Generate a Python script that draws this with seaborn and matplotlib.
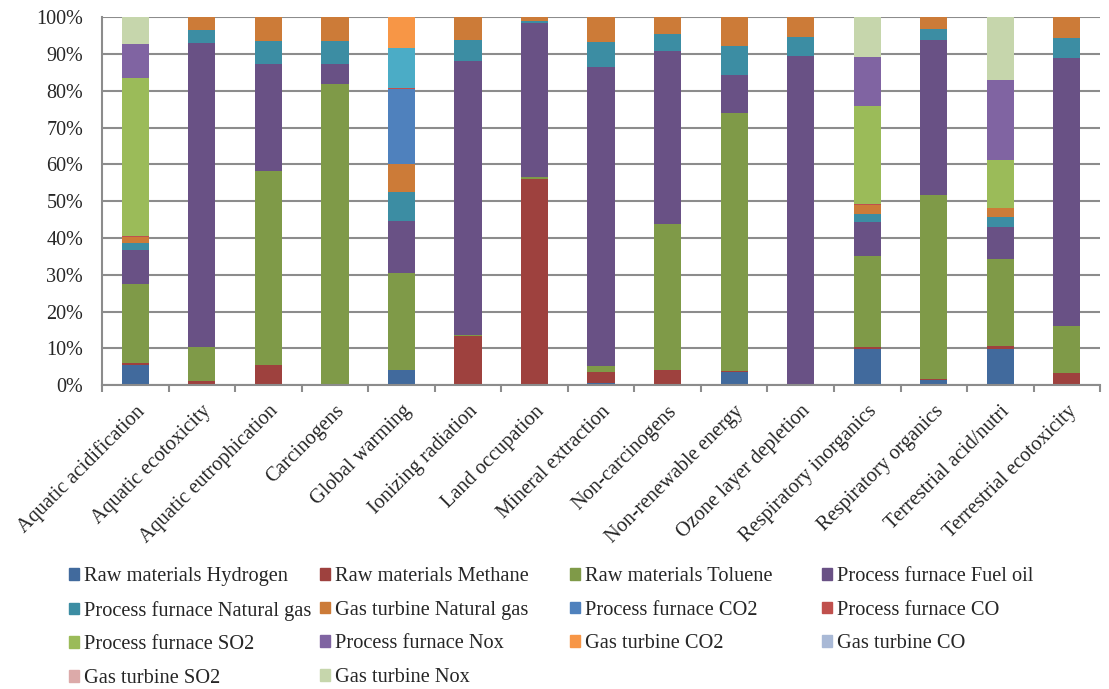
import matplotlib
matplotlib.use("Agg")
import matplotlib.pyplot as plt
import matplotlib.patches as mpatches
import matplotlib.ticker as ticker
import numpy as np
import seaborn as sns

categories = [
    "Aquatic acidification", "Aquatic ecotoxicity", "Aquatic eutrophication",
    "Carcinogens", "Global warming", "Ionizing radiation", "Land occupation",
    "Mineral extraction", "Non-carcinogens", "Non-renewable energy",
    "Ozone layer depletion", "Respiratory inorganics", "Respiratory organics",
    "Terrestrial acid/nutri", "Terrestrial ecotoxicity",
]

# shares in % per impact category, bottom to top
raw_hydrogen = [5.4, 0, 0, 0, 4.0, 0, 0, 0.6, 0, 3.5, 0, 9.7, 1.3, 9.9, 0]
raw_methane = [0.5, 1.1, 5.4, 0, 0.2, 13.3, 56.0, 3.0, 4.1, 0.3, 0, 0.6, 0.4, 0.7, 3.3]
raw_toluene = [21.7, 9.2, 52.8, 81.8, 26.2, 0.4, 0.5, 1.7, 39.6, 70.2, 0, 24.8, 49.9, 23.8, 12.9]
pf_fuel_oil = [9.0, 82.7, 29.1, 5.6, 14.3, 74.3, 41.9, 81.2, 47.0, 10.3, 89.4, 9.3, 42.2, 8.7, 72.7]
pf_natural_gas = [2.0, 3.6, 6.2, 6.2, 7.7, 5.9, 0.7, 6.7, 4.7, 7.8, 5.2, 2.2, 2.9, 2.6, 5.4]
gt_natural_gas = [1.8, 3.4, 6.5, 6.4, 7.7, 6.1, 0.9, 6.8, 4.6, 7.9, 5.4, 2.4, 3.3, 2.5, 5.7]
pf_co2 = [0, 0, 0, 0, 20.3, 0, 0, 0, 0, 0, 0, 0, 0, 0, 0]
pf_co = [0.2, 0, 0, 0, 0.4, 0, 0, 0, 0, 0, 0, 0.3, 0, 0, 0]
pf_so2 = [43.0, 0, 0, 0, 0, 0, 0, 0, 0, 0, 0, 26.7, 0, 13.1, 0]
pf_nox = [9.2, 0, 0, 0, 0, 0, 0, 0, 0, 0, 0, 13.2, 0, 21.7, 0]
unlisted = [0, 0, 0, 0, 10.8, 0, 0, 0, 0, 0, 0, 0, 0, 0, 0]  # not shown in legend
gt_co2 = [0, 0, 0, 0, 8.4, 0, 0, 0, 0, 0, 0, 0, 0, 0, 0]
gt_co = [0] * 15
gt_so2 = [0] * 15
gt_nox = [7.2, 0, 0, 0, 0, 0, 0, 0, 0, 0, 0, 10.8, 0, 17.0, 0]

series = [
    ("Raw materials Hydrogen", raw_hydrogen, "#416A9D"),
    ("Raw materials Methane", raw_methane, "#9E413E"),
    ("Raw materials Toluene", raw_toluene, "#7F9A48"),
    ("Process furnace Fuel oil", pf_fuel_oil, "#695185"),
    ("Process furnace Natural gas", pf_natural_gas, "#3C8DA3"),
    ("Gas turbine Natural gas", gt_natural_gas, "#CC7B38"),
    ("Process furnace CO2", pf_co2, "#4F81BD"),
    ("Process furnace CO", pf_co, "#C0504D"),
    ("Process furnace SO2", pf_so2, "#9BBB59"),
    ("Process furnace Nox", pf_nox, "#8064A2"),
    ("_hidden", unlisted, "#4BACC6"),
    ("Gas turbine CO2", gt_co2, "#F79646"),
    ("Gas turbine CO", gt_co, "#A9B9D6"),
    ("Gas turbine SO2", gt_so2, "#DCAAA9"),
    ("Gas turbine Nox", gt_nox, "#C6D6AC"),
]

sns.set_style("white")
plt.rcParams["font.family"] = ["Liberation Serif", "DejaVu Serif"]

fig = plt.figure(figsize=(11.09, 6.89), dpi=100)
ax = fig.add_axes([0.092, 0.441, 0.9, 0.534])

values = np.array([s[1] for s in series], dtype=float)
values = values / values.sum(axis=0) * 100
cumulative = np.cumsum(values, axis=0)

# draw the tallest cumulative bar first, lower segments on top
for i in range(len(series) - 1, -1, -1):
    sns.barplot(x=categories, y=cumulative[i], color=series[i][2],
                saturation=1, width=0.41, linewidth=0, ax=ax)

ax.set_ylim(0, 100)
ax.set_xlim(-0.5, len(categories) - 0.5)
ax.yaxis.set_major_locator(ticker.MultipleLocator(10))
ax.yaxis.set_major_formatter(ticker.FuncFormatter(lambda v, p: f"{v:.0f}%"))
ax.grid(axis="y", color="#8C8C8C", linewidth=1.5)
ax.set_axisbelow(True)

ax.set_xticks(range(len(categories)))
ax.set_xticklabels(categories, rotation=45, ha="right", rotation_mode="anchor")
ax.set_xticks(np.arange(-0.5, len(categories), 1), minor=True)
ax.tick_params(axis="x", which="major", length=0, pad=12, labelsize=14.7)
ax.tick_params(axis="x", which="minor", length=5, width=1.5, color="#8C8C8C", direction="out")
ax.tick_params(axis="y", length=4.3, width=1.5, color="#8C8C8C", direction="out",
               labelsize=14.5, pad=9.4)
ax.tick_params(bottom=True, which="both")
for side in ["top", "right"]:
    ax.spines[side].set_visible(False)
for side in ["left", "bottom"]:
    ax.spines[side].set_color("#8C8C8C")
    ax.spines[side].set_linewidth(1.5)
ax.set_xlabel("")
ax.set_ylabel("")

handles = [mpatches.Patch(color=c, label=n) for n, v, c in series if not n.startswith("_")]
col_x = [0.0622, 0.2885, 0.514, 0.741]
for col in range(4):
    fig.legend(handles=handles[col::4], loc="upper left",
               bbox_to_anchor=(col_x[col], 0.177), frameon=False,
               fontsize=14.7, handlelength=0.5, handleheight=0.5,
               handletextpad=0.25, labelspacing=0.72, borderpad=0, borderaxespad=0)

fig.savefig("out.png", dpi=100)
